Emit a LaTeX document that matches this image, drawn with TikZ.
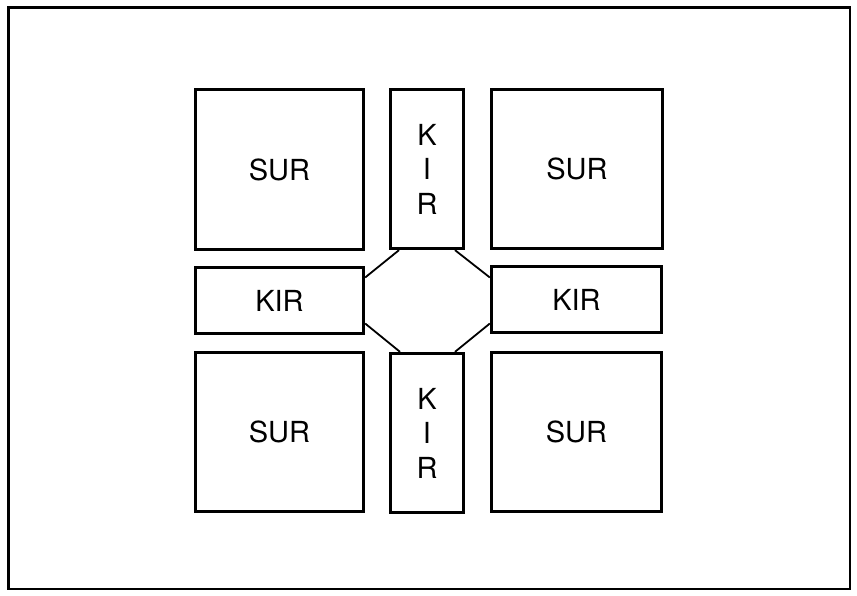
\documentclass[tikz,border=0pt]{standalone}
\usepackage{fontspec}
\setmainfont{TeX Gyre Heros}
\begin{document}
\begin{tikzpicture}[x=1pt, y=-1pt,
    cell/.style={draw, line width=2.8pt, inner sep=0pt, align=center,
      font=\fontsize{29}{34.5}\selectfont}]
      % Frame
      \useasboundingbox (0,0) rectangle (857,596);
      \draw[line width=2.8pt] (8.5,7.5) rectangle (850,589);
      % Corner blocks
      \node[cell, minimum width=168.5pt, minimum height=160.5pt] (surTL) at (279.5,169.5) {SUR};
      \node[cell, minimum width=171.5pt, minimum height=159.5pt] (surTR) at (577,169) {SUR};
      \node[cell, minimum width=168.5pt, minimum height=159.5pt] (surBL) at (279.5,432) {SUR};
      \node[cell, minimum width=170.5pt, minimum height=159.5pt] (surBR) at (576.5,432) {SUR};
      % Arms
      \node[cell, minimum width=73.5pt, minimum height=159.5pt] (kirT) at (427,169) {K\\I\\R};
      \node[cell, minimum width=73.5pt, minimum height=159.5pt] (kirB) at (427,433) {K\\I\\R};
      \node[cell, minimum width=168.5pt, minimum height=66.5pt] (kirL) at (279.5,300.5) {KIR};
      \node[cell, minimum width=170.5pt, minimum height=66.5pt] (kirR) at (576.5,299.5) {KIR};
      % Octagon
      \draw[line width=1.8pt] ([yshift=23pt]kirL.east) -- ([xshift=-28pt]kirT.south);
      \draw[line width=1.8pt] ([xshift=28pt]kirT.south) -- ([yshift=22pt]kirR.west);
      \draw[line width=1.8pt] ([yshift=-23pt]kirL.east) -- ([xshift=-27pt]kirB.north);
      \draw[line width=1.8pt] ([xshift=28pt]kirB.north) -- ([yshift=-24pt]kirR.west);
    \end{tikzpicture}
\end{document}
